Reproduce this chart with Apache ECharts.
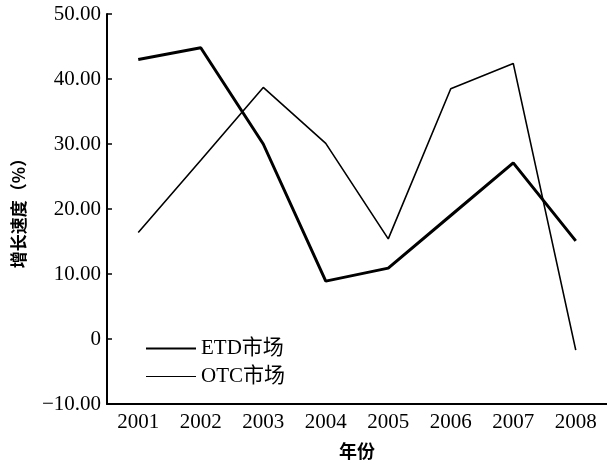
<!DOCTYPE html>
<html><head><meta charset="utf-8">
<script src="https://cdn.jsdelivr.net/npm/echarts@6/dist/echarts.min.js"></script>
<style>html,body{margin:0;padding:0;background:#fff}#c{width:607px;height:468px}</style>
</head><body><div id="c"></div>
<script>
const years = ['2001','2002','2003','2004','2005','2006','2007','2008'];
const etd = [43.0, 44.8, 30.0, 8.9, 10.9, 19.0, 27.1, 15.1];
const otc = [16.4, 27.5, 38.7, 30.1, 15.4, 38.5, 42.4, -1.7];
const yTicks = {min: -10, max: 50, interval: 10};
const serif = "'Liberation Serif','Noto Sans CJK SC',serif";
const chart = echarts.init(document.getElementById('c'));
chart.setOption({
  animation: false,
  backgroundColor: '#fff',
  grid: {left: 107, right: 0, top: 14, bottom: 64, containLabel: false},
  legend: {
    left: 141, top: 333, orient: 'vertical', itemWidth: 50, itemHeight: 12, itemGap: 7,
    textStyle: {fontFamily: serif, fontSize: 21, color: '#000'},
    data: [{name: 'ETD市场', icon: 'path://M0,5L50,5L50,7L0,7Z'}, {name: 'OTC市场', icon: 'path://M0,5.5L50,5.5L50,6.5L0,6.5Z'}]
  },
  xAxis: {
    type: 'category', data: years, boundaryGap: true,
    name: '年份', nameLocation: 'middle', nameGap: 38,
    nameTextStyle: {fontFamily: "'Noto Sans CJK SC'", fontWeight: 'bold', fontSize: 18, color: '#000'},
    axisLine: {onZero: false, lineStyle: {color: '#000', width: 2}},
    axisTick: {inside: true, length: 5, lineStyle: {color: '#000', width: 1.5}},
    axisLabel: {fontFamily: serif, fontSize: 21, color: '#000', margin: 8}
  },
  yAxis: {
    type: 'value', min: yTicks.min, max: yTicks.max, interval: yTicks.interval,
    name: '增长速度（%）', nameLocation: 'middle', nameGap: 80, nameRotate: 90,
    nameTextStyle: {fontFamily: "'Noto Sans CJK SC'", fontWeight: 'bold', fontSize: 17, color: '#000'},
    splitLine: {show: false},
    axisLine: {show: true, onZero: false, lineStyle: {color: '#000', width: 2}},
    axisTick: {show: true, inside: true, length: 5, lineStyle: {color: '#000', width: 1.5}},
    axisLabel: {fontFamily: serif, fontSize: 21, color: '#000', margin: 6,
      formatter: v => v === 0 ? '0' : (v < 0 ? '−' + Math.abs(v).toFixed(2) : v.toFixed(2))}
  },
  series: [
    {name: 'ETD市场', type: 'line', data: etd, symbol: 'none', lineStyle: {color: '#000', width: 3}, itemStyle: {color: '#000'}},
    {name: 'OTC市场', type: 'line', data: otc, symbol: 'none', lineStyle: {color: '#000', width: 1.6}, itemStyle: {color: '#000'}}
  ]
});
</script></body></html>
